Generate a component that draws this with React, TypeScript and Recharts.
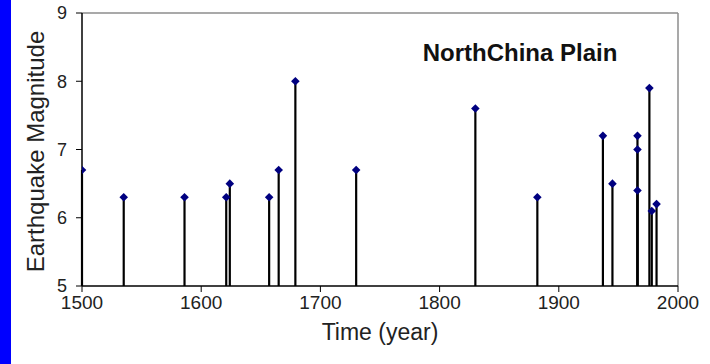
import { ComposedChart, Scatter, XAxis, YAxis, ReferenceLine, Label } from 'recharts';

const INK = '#000000';
const NAVY = '#000080';
const TEXT = '#222222';
const FRAME = '#8c8c8c';
const FONT = '"Liberation Sans", Arial, sans-serif';

// earthquake events: year and magnitude
const years = [1500, 1535, 1586, 1621, 1624, 1657, 1665, 1679, 1730, 1830, 1882, 1937, 1945, 1966, 1966, 1966, 1976, 1978, 1982];
const magnitudes = [6.7, 6.3, 6.3, 6.3, 6.5, 6.3, 6.7, 8.0, 6.7, 7.6, 6.3, 7.2, 6.5, 7.2, 7.0, 6.4, 7.9, 6.1, 6.2];

const xTicks = [1500, 1600, 1700, 1800, 1900, 2000];
const yTicks = [5, 6, 7, 8, 9];
const BASE = 5;

const events = years.map((year, i) => ({ year, mag: magnitudes[i] }));

const Diamond = (props: any) => {
  const { cx, cy } = props;
  if (cx == null || cy == null) return null;
  const r = 4.3;
  return <path d={`M${cx},${cy - r}L${cx + r},${cy}L${cx},${cy + r}L${cx - r},${cy}Z`} fill={NAVY} />;
};

export default function App() {
  return (
    <div style={{ position: 'absolute', left: 0, top: 0, width: 710, height: 364, background: '#fff', fontFamily: FONT }}>
      <div style={{ position: 'absolute', left: 0, top: 0, width: 11, height: 364, background: '#0000ff' }} />
      <ComposedChart width={710} height={364} margin={{ top: 13, right: 32, bottom: 48, left: 12 }}>
        <XAxis
          type="number" dataKey="year" domain={[1500, 2000]} ticks={xTicks} allowDataOverflow
          height={30} tickSize={6} tickMargin={4}
          axisLine={{ stroke: INK, strokeWidth: 1.5 }} tickLine={{ stroke: INK }}
          tick={{ fill: TEXT, fontSize: 19, fontFamily: FONT }}
        >
          <Label
            content={({ viewBox }: any) => (
              <text x={viewBox.x + viewBox.width / 2} y={332} textAnchor="middle" dominantBaseline="central"
                fill={TEXT} fontSize={23} fontFamily={FONT}>
                Time (year)
              </text>
            )}
          />
        </XAxis>
        <YAxis
          type="number" dataKey="mag" domain={[5, 9]} ticks={yTicks} allowDataOverflow
          width={70} tickSize={6} tickMargin={9}
          axisLine={{ stroke: INK, strokeWidth: 1.5 }} tickLine={{ stroke: INK }}
          tick={{ fill: TEXT, fontSize: 18, fontFamily: FONT }}
        >
          <Label
            content={({ viewBox }: any) => {
              const x = viewBox.x + 23;
              const y = viewBox.y + viewBox.height / 2 + 2;
              return (
                <text x={x} y={y} transform={`rotate(-90, ${x}, ${y})`} textAnchor="middle" dominantBaseline="central"
                  fill={TEXT} fontSize={24} fontFamily={FONT}>
                  Earthquake Magnitude
                </text>
              );
            }}
          />
        </YAxis>
        {/* grey frame on top and right */}
        <ReferenceLine y={9} stroke={FRAME} strokeWidth={1.5} />
        <ReferenceLine x={2000} stroke={FRAME} strokeWidth={1.5} />
        {/* stems from the baseline up to each magnitude */}
        {events.map((e, i) => (
          <ReferenceLine key={i} segment={[{ x: e.year, y: BASE }, { x: e.year, y: e.mag }]} stroke={INK} strokeWidth={2.2} />
        ))}
        <Scatter data={events} dataKey="mag" shape={<Diamond />} isAnimationActive={false} />
        <text x={520} y={52} textAnchor="middle" dominantBaseline="central" fontSize={24} fontWeight="bold" fontFamily={FONT} fill="#111">
          NorthChina Plain
        </text>
      </ComposedChart>
    </div>
  );
}
